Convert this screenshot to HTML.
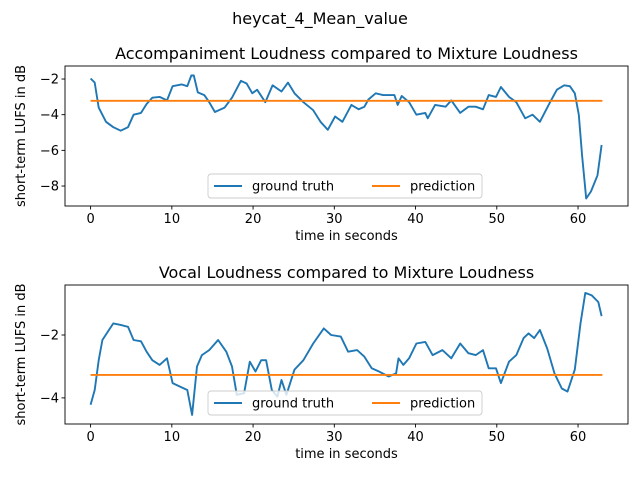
<!DOCTYPE html>
<html><head><meta charset="utf-8"><style>
html,body{margin:0;padding:0;background:#fff;}
svg{display:block;font-family:"DejaVu Sans","Liberation Sans",sans-serif;}
</style></head><body>
<svg id="fig" width="640" height="480" viewBox="0 0 640 480">
<text x="320" y="24" text-anchor="middle" font-size="16">heycat_4_Mean_value</text>
</svg>
<script>
const topTimes=[0,0.5,1,1.9,2.8,3.7,4.6,5.3,6.2,6.9,7.6,8.5,9.4,10.1,11.2,11.9,12.4,12.7,13.2,14,14.6,15.3,16.5,17.4,18.5,19.2,19.9,20.5,21.5,22.4,23.5,24.3,25.1,26.2,27.4,28.3,29.2,30.1,31,32.1,33,33.7,34.2,35.1,36,37.4,37.8,38.3,39.2,40.1,41.2,41.5,42.4,43.7,44.4,45.5,46.5,47.4,48.3,49,49.9,50.5,51.5,52.4,53.5,54.4,55.3,56.5,57.4,58.3,59,59.6,60.1,60.5,61,61.6,62.4,62.9];
const topTruth=[-1.97,-2.2,-3.6,-4.4,-4.7,-4.9,-4.7,-4.0,-3.9,-3.4,-3.05,-3.0,-3.2,-2.4,-2.3,-2.4,-1.8,-1.8,-2.75,-2.9,-3.3,-3.85,-3.6,-3.05,-2.1,-2.25,-2.8,-2.6,-3.3,-2.35,-2.7,-2.2,-2.8,-3.3,-3.75,-4.4,-4.85,-4.1,-4.4,-3.45,-3.7,-3.55,-3.15,-2.8,-2.9,-2.9,-3.45,-2.95,-3.3,-4.0,-3.9,-4.2,-3.45,-3.55,-3.2,-3.9,-3.55,-3.55,-3.7,-2.9,-3.0,-2.45,-3.0,-3.3,-4.2,-4.0,-4.4,-3.35,-2.6,-2.35,-2.4,-2.8,-4.0,-6.3,-8.7,-8.3,-7.4,-5.7];
const topPrediction=-3.22;
const topYTicks=[-2,-4,-6,-8];

const botTimes=[0,0.5,1,1.45,2.1,2.8,3.7,4.6,5.3,6.2,6.9,7.6,8.5,9.4,10.1,11,11.9,12.5,13.1,13.7,14.6,15.7,16.7,17.4,18,18.9,19.6,20.3,21,21.6,22.3,23,23.5,24.1,25.1,26.2,27.4,28.7,29.6,30.8,31.7,32.8,33.7,34.6,35.5,36.7,37.6,37.9,38.5,39.2,40.1,41.2,42.1,43.3,44.4,45.5,46.5,47.4,48.3,49,49.9,50.5,51.5,52.4,53.3,53.9,54.6,55.3,56.2,57.1,58,58.7,59.6,60.3,60.9,61.7,62.5,62.9];
const botTruth=[-4.22,-3.75,-2.8,-2.16,-1.9,-1.63,-1.68,-1.74,-2.16,-2.2,-2.53,-2.8,-2.95,-2.74,-3.53,-3.64,-3.75,-4.54,-3.0,-2.64,-2.48,-2.16,-2.53,-3.0,-3.9,-3.85,-2.85,-3.16,-2.8,-2.8,-3.75,-3.96,-3.43,-3.9,-3.1,-2.8,-2.27,-1.79,-2.0,-2.05,-2.53,-2.48,-2.69,-3.06,-3.16,-3.32,-3.22,-2.74,-2.95,-2.74,-2.27,-2.22,-2.64,-2.48,-2.74,-2.27,-2.58,-2.64,-2.48,-3.06,-3.06,-3.53,-2.85,-2.64,-2.1,-1.95,-2.1,-1.84,-2.43,-3.22,-3.7,-3.8,-3.1,-1.63,-0.66,-0.74,-0.95,-1.4];
const botPrediction=-3.27;
const botYTicks=[-2,-4];
const xTicks=[0,10,20,30,40,50,60];

const NS='http://www.w3.org/2000/svg';
const svg=document.getElementById('fig');
function mk(tag,attrs,parent){const e=document.createElementNS(NS,tag);for(const k in attrs)e.setAttribute(k,attrs[k]);(parent||svg).appendChild(e);return e;}

function panel(p){
  const L=65,R=628,T=p.top,B=p.bottom;
  const xmin=-3.15,xmax=66.15;
  const sx=v=>L+(v-xmin)/(xmax-xmin)*(R-L);
  const sy=v=>T+(p.ymax-v)/(p.ymax-p.ymin)*(B-T);
  const g=mk('g',{});
  
  
  const t=mk('text',{x:(L+R)/2,y:T-7,'text-anchor':'middle','font-size':16},g);
  t.textContent=p.title;
  
  
  let d='';p.times.forEach((tm,i)=>{d+=(i?'L':'M')+sx(tm).toFixed(1)+','+sy(p.truth[i]).toFixed(1);});
  const gl=mk('path',{d:d,fill:'none',stroke:'#1f77b4','stroke-width':1.9,'stroke-linejoin':'round'},g);
  
  
  const pl=mk('line',{x1:sx(0),x2:sx(63),y1:sy(p.pred),y2:sy(p.pred),stroke:'#ff7f0e','stroke-width':1.9},g);
  
  
  const fr=mk('rect',{x:L,y:T,width:R-L,height:B-T,fill:'none',stroke:'#000','stroke-width':0.9},g);
  
  
  xTicks.forEach(v=>{
    mk('line',{x1:sx(v),x2:sx(v),y1:B,y2:B+3.5,stroke:'#000','stroke-width':0.9},g);
    const tl=mk('text',{x:sx(v),y:B+17,'text-anchor':'middle','font-size':13},g);
    tl.textContent=v;
    
    
  });
  p.yticks.forEach(v=>{
    mk('line',{x1:L-3.5,x2:L,y1:sy(v),y2:sy(v),stroke:'#000','stroke-width':0.9},g);
    const tl=mk('text',{x:L-6,y:sy(v)+4.5,'text-anchor':'end','font-size':13},g);
    tl.textContent='\u2212'+Math.abs(v);
    
    
  });
  const xl=mk('text',{x:(L+R)/2,y:B+34,'text-anchor':'middle','font-size':13},g);
  xl.textContent='time in seconds';
  
  
  const yc=(T+B)/2;
  const yl=mk('text',{x:25,y:yc,'text-anchor':'middle','font-size':13,transform:'rotate(-90 25 '+yc+')'},g);
  yl.textContent='short-term LUFS in dB';
  
  
  const lg=mk('g',{},g);
  
  
  mk('rect',{x:208,y:p.legTop,width:274,height:24,rx:3,fill:'#fff','fill-opacity':0.8,stroke:'#ccc','stroke-width':0.9},lg);
  const ly=p.legTop+12;
  mk('line',{x1:214,x2:242,y1:ly,y2:ly,stroke:'#1f77b4','stroke-width':1.9},lg);
  const t1=mk('text',{x:252,y:ly+4.5,'font-size':13},lg);t1.textContent='ground truth';
  
  
  mk('line',{x1:372,x2:400,y1:ly,y2:ly,stroke:'#ff7f0e','stroke-width':1.9},lg);
  const t2=mk('text',{x:410,y:ly+4.5,'font-size':13},lg);t2.textContent='prediction';
  
  
}
panel({name:'accompaniment-panel',title:'Accompaniment Loudness compared to Mixture Loudness',top:66,bottom:206,ymin:-9.12,ymax:-1.27,times:topTimes,truth:topTruth,pred:topPrediction,yticks:topYTicks,legTop:174});
panel({name:'vocal-panel',title:'Vocal Loudness compared to Mixture Loudness',top:285,bottom:424,ymin:-4.83,ymax:-0.41,times:botTimes,truth:botTruth,pred:botPrediction,yticks:botYTicks,legTop:391});
</script>
</body></html>
